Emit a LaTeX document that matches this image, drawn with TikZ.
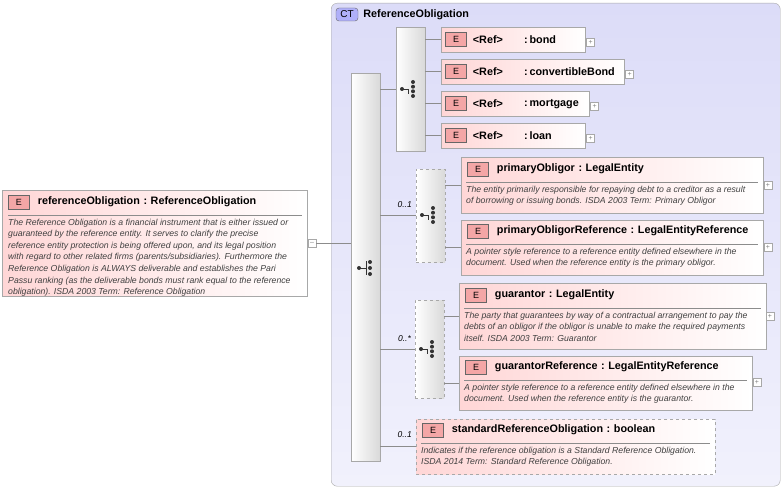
\documentclass[tikz,border=0pt]{standalone}
\usepackage{fontspec}
\setmainfont{Liberation Sans}
\usetikzlibrary{positioning,calc}
\definecolor{ctfill}{HTML}{DCDCF8}
\definecolor{elfill}{HTML}{FFD6D6}
\definecolor{bdr}{HTML}{A8A8A8}
\definecolor{badge}{HTML}{F08080}
\tikzset{
  elem/.style={draw=bdr, anchor=north west, left color=elfill, right color=white, inner sep=0pt},
  optelem/.style={elem, dashed},
  bar/.style={draw=bdr, anchor=north west, left color=white, right color=black!15, inner sep=0pt},
  optbar/.style={bar, dashed},
  badgeE/.style={draw=black!60, fill=badge!70, minimum width=21pt, minimum height=14pt, inner sep=0pt, font=\fontsize{9}{9}\selectfont},
  ttl/.style={anchor=west, font=\fontsize{10.8}{12}\selectfont\bfseries, inner sep=0pt},
  desc/.style={anchor=north west, font=\fontsize{8.7}{11.6}\selectfont\itshape, text=black!75, align=left, inner sep=0pt},
  pm/.style={draw=bdr, fill=white, minimum size=8pt, inner sep=0pt, font=\fontsize{7}{7}\selectfont, text=black!50},
  card/.style={font=\fontsize{8.5}{9}\selectfont\itshape, anchor=east, inner sep=0pt},
  conn/.style={draw=black!45, line width=0.5pt}
}
% sequence / choice icons
\newcommand{\seqicon}[1]{%
  \fill[black!80] ($(#1)+(-7,0)$) circle (2pt);
  \draw[black!80, line width=0.9pt] ($(#1)+(-7,0)$) -- ($(#1)+(0,0)$) ($(#1)+(0,-7)$) -- ($(#1)+(0,7)$);
  \foreach \d in {-6,0,6} \fill[black!80] ($(#1)+(4,\d)$) circle (2pt);}
\newcommand{\choiceicon}[1]{%
  \fill[black!80] ($(#1)+(-8,0)$) circle (2pt);
  \draw[black!80, line width=0.9pt] ($(#1)+(-8,0)$) -- ($(#1)+(-2,0)$) -- ($(#1)+(-2,5)$);
  \foreach \d in {-7,-2.3,2.3,7} \fill[black!80] ($(#1)+(3,\d)$) circle (2pt);}
\begin{document}
\begin{tikzpicture}[x=1pt, y=-1pt]
\useasboundingbox (0,0) rectangle (783,489);

% complex type frame
\node[draw=bdr, rounded corners=6pt, anchor=north west, top color=ctfill, bottom color=ctfill!40, minimum width=449pt, minimum height=483pt, inner sep=0pt] (ct) at (331,3) {};
\node[draw=black!60, fill=ctfill!80!blue, rounded corners=3pt, minimum width=22pt, minimum height=13pt, inner sep=0pt, font=\fontsize{10}{10}\selectfont] (ctbadge) at (347,14.5) {CT};
\node[ttl, right=5pt of ctbadge] {ReferenceObligation};

% root element
\node[elem, minimum width=305pt, minimum height=106pt] (root) at (2,190) {};
\node[badgeE] (rootE) at (19,202) {E};
\node[ttl, right=8pt of rootE] {referenceObligation\,\,:\,\,ReferenceObligation};
\draw[black!45] (8,215) -- (302,215);
\node[desc] at (8,218.5) {The Reference Obligation is a financial instrument that is either issued or\\guaranteed by the reference entity. It serves to clarify the precise\\reference entity protection is being offered upon, and its legal position\\with regard to other related firms (parents/subsidiaries). Furthermore the\\Reference Obligation is ALWAYS deliverable and establishes the Pari\\Passu ranking (as the deliverable bonds must rank equal to the reference\\obligation). ISDA 2003 Term: Reference Obligation};
\node[pm] (rootpm) at (312,243) {--};

% main sequence
\node[bar, minimum width=29pt, minimum height=388pt] (seq) at (351,73) {};
\seqicon{366,268}
\draw[conn] (rootpm.east) -- (seq.west |- rootpm.east);

% first choice with refs
\node[bar, minimum width=29pt, minimum height=124pt] (ch1) at (396,27) {};
\choiceicon{410,89}
\draw[conn] (seq.east |- 0,89) -- (ch1.west |- 0,89);
\foreach \name/\w/\y in {bond/144/27, convertibleBond/183/59, mortgage/148/91, loan/144/123} {
  \node[elem, minimum width=\w pt, minimum height=25pt] (r-\name) at (441,\y) {};
  \node[badgeE] (e-\name) at ($(r-\name.west)+(15,0)$) {E};
  \node[ttl, right=6pt of e-\name] {<Ref>};
  \node[ttl] at ($(r-\name.west)+(83,0)$) {:\,\name};
  \node[pm, right=1pt of r-\name.east, yshift=-3pt] {+};
  \draw[conn] (ch1.east |- r-\name.west) -- (r-\name.west);
}

% second choice
\node[optbar, minimum width=29pt, minimum height=93pt] (ch2) at (416,169) {};
\choiceicon{430,215}
\draw[conn] (seq.east |- 0,215) -- (ch2.west |- 0,215);
\node[card] at (412,205) {0..1};

\node[elem, minimum width=302pt, minimum height=56pt] (po) at (461,157) {};
\node[badgeE] (poE) at (478,169) {E};
\node[ttl, right=8pt of poE] {primaryObligor\,\,:\,\,LegalEntity};
\draw[black!45] (466,182) -- (758,182);
\node[desc] at (466,185.5) {The entity primarily responsible for repaying debt to a creditor as a result\\of borrowing or issuing bonds. ISDA 2003 Term: Primary Obligor};
\node[pm] at (768,185) {+};
\draw[conn] (ch2.east |- 0,185) -- (po.west |- 0,185);

\node[elem, minimum width=302pt, minimum height=55pt] (por) at (461,220) {};
\node[badgeE] (porE) at (478,231) {E};
\node[ttl, right=8pt of porE] {primaryObligorReference\,\,:\,\,LegalEntityReference};
\draw[black!45] (466,244) -- (758,244);
\node[desc] at (466,247.5) {A pointer style reference to a reference entity defined elsewhere in the\\document. Used when the reference entity is the primary obligor.};
\node[pm] at (768,247) {+};
\draw[conn] (ch2.east |- 0,247) -- (por.west |- 0,247);

% third choice
\node[optbar, minimum width=29pt, minimum height=98pt] (ch3) at (415,300) {};
\choiceicon{429,349}
\draw[conn] (seq.east |- 0,349) -- (ch3.west |- 0,349);
\node[card] at (411,339) {0..*};

\node[elem, minimum width=307pt, minimum height=66pt] (gu) at (459,283) {};
\node[badgeE] (guE) at (476,295) {E};
\node[ttl, right=8pt of guE] {guarantor\,\,:\,\,LegalEntity};
\draw[black!45] (464,308) -- (761,308);
\node[desc] at (464,311.5) {The party that guarantees by way of a contractual arrangement to pay the\\debts of an obligor if the obligor is unable to make the required payments\\itself. ISDA 2003 Term: Guarantor};
\node[pm] at (770,316) {+};
\draw[conn] (ch3.east |- 0,316) -- (gu.west |- 0,316);

\node[elem, minimum width=293pt, minimum height=54pt] (gur) at (459,356) {};
\node[badgeE] (gurE) at (476,367) {E};
\node[ttl, right=8pt of gurE] {guarantorReference\,\,:\,\,LegalEntityReference};
\draw[black!45] (464,380) -- (747,380);
\node[desc] at (464,383.5) {A pointer style reference to a reference entity defined elsewhere in the\\document. Used when the reference entity is the guarantor.};
\node[pm] at (757,382) {+};
\draw[conn] (ch3.east |- 0,383) -- (gur.west |- 0,383);

% standard reference obligation
\node[optelem, minimum width=299pt, minimum height=55pt] (sro) at (416,419) {};
\node[badgeE] (sroE) at (433,430) {E};
\node[ttl, right=8pt of sroE] {standardReferenceObligation\,\,:\,\,boolean};
\draw[black!45] (421,443) -- (710,443);
\node[desc] at (421,446.5) {Indicates if the reference obligation is a Standard Reference Obligation.\\ISDA 2014 Term: Standard Reference Obligation.};
\draw[conn] (seq.east |- 0,446) -- (sro.west |- 0,446);
\node[card] at (412,435) {0..1};
\end{tikzpicture}
\end{document}
